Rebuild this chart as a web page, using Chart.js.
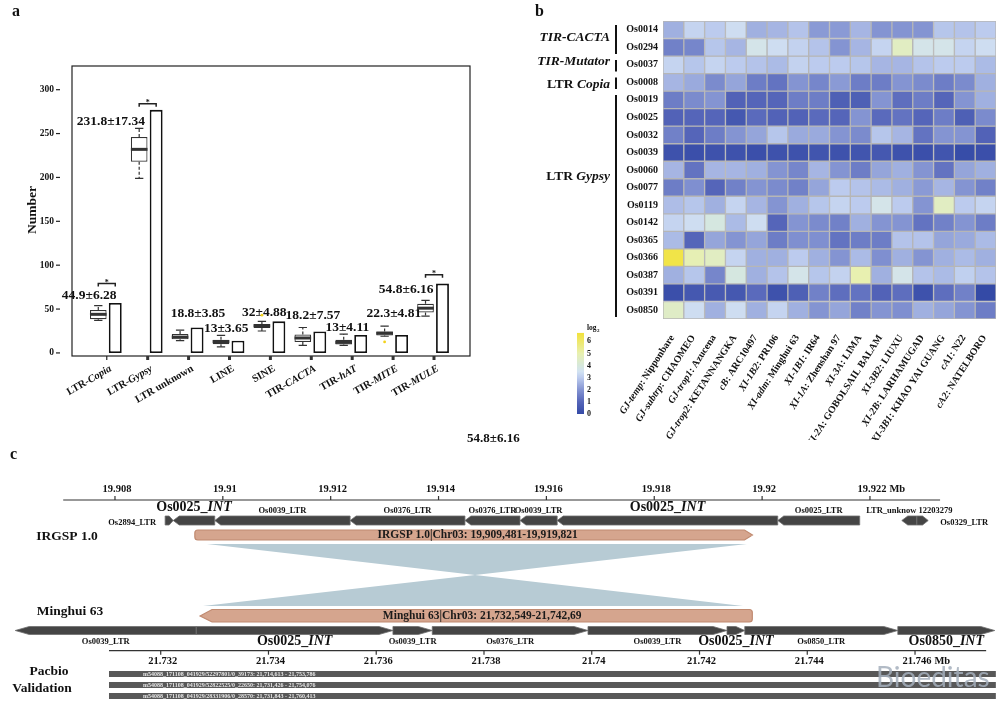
<!DOCTYPE html>
<html>
<head>
<meta charset="utf-8">
<script src="https://cdn.jsdelivr.net/npm/chart.js@4.4.0/dist/chart.umd.min.js"></script>
<style>
  body { margin: 0; background: #fff; }
  #wrap { position: relative; width: 1005px; height: 709px; overflow: hidden; }
  canvas { position: absolute; }
  .note { position: absolute; font: bold 13px "Liberation Serif", serif; line-height: 15px; color: #111; }
</style>
</head>
<body>
<div id="wrap">
  <canvas id="boxes" width="500" height="440" style="left:0;top:0"></canvas>
  <canvas id="heat" width="505" height="440" style="left:500px;top:0"></canvas>
  <canvas id="synteny" width="1005" height="269" style="left:0;top:440px"></canvas>
  <div class="note" style="left:467px;top:430px">54.8±6.16</div>
</div>
<script>
// ---------- panel a: TE counts ----------
const cats = ["LTR-*Copia*", "LTR-*Gypsy*", "LTR unknown", "LINE", "SINE", "TIR-*CACTA*", "TIR-*hAT*", "TIR-*MITE*", "TIR-*MULE*"];
const boxMin = [37, 199, 14, 7, 25, 8.5, 8.5, 19, 42];
const boxQ1 = [38.5, 218, 15.5, 10, 28.5, 12.5, 9.5, 20, 46];
const boxMed = [44, 232, 18, 13, 31, 17, 12, 22.5, 51];
const boxQ3 = [49, 246, 21.5, 15, 33, 21, 15, 24.5, 56];
const boxMax = [54, 256, 26, 20, 36, 29, 21.5, 30.5, 60];
const refCounts = [57, 277, 29, 14, 36, 24.5, 20.5, 20.5, 79];
const meanSd = ["44.9±6.28", "231.8±17.34", "18.8±3.85", "13±3.65", "32±4.88", "18.2±7.57", "13±4.11", "22.3±4.81", "54.8±6.16"];
const outlierCat = [4, 7];
const outlierVal = [43, 12.5];
const sigCat = [0, 1, 8];
const sigVal = [79, 284, 89];
const yTicks = [0, 50, 100, 150, 200, 250, 300];
// where each mean±sd label sits (category offset, value)
const labelDx = [-0.43, -0.9, 0.23, -0.08, -0.15, 0.04, -0.12, 0.02, -0.68];
const labelY = [66, 264, 44.6, 27.5, 45.6, 42.6, 29, 44.6, 72];

// ---------- panel b: heatmap ----------
const rowNames = ["Os0014", "Os0294", "Os0037", "Os0008", "Os0019", "Os0025", "Os0032", "Os0039", "Os0060", "Os0077", "Os0119", "Os0142", "Os0365", "Os0366", "Os0387", "Os0391", "Os0850"];
const colNames = ["*GJ-temp*: Nipponbare", "*GJ-subtrp*: CHAOMEO", "*GJ-trop1*: Azucena", "*GJ-trop2*: KETANNANGKA", "*cB*: ARC10497", "*XI-1B2*: PR106", "*XI-adm*: Minghui 63", "*XI-1B1*: IR64", "*XI-1A*: Zhenshan 97", "*XI-3A*: LIMA", "*XI-2A*: GOBOLSAIL BALAM", "*XI-3B2*: LIUXU", "*XI-2B*: LARHAMUGAD", "*XI-3B1*: KHAO YAI GUANG", "*cA1*: N22", "*cA2*: NATELBORO"];
const heat = [
  [2.5, 3.2, 3.0, 3.4, 2.5, 2.6, 2.85, 2.1, 2.1, 2.6, 2.0, 2.0, 2.0, 2.9, 2.85, 3.0],
  [1.6, 1.7, 2.9, 2.6, 3.7, 3.4, 3.15, 2.85, 2.0, 2.6, 3.2, 4.6, 3.7, 3.7, 3.2, 3.4],
  [3.2, 2.9, 3.2, 3.0, 2.85, 2.7, 3.15, 3.0, 3.0, 2.9, 2.6, 2.6, 2.85, 3.0, 3.0, 2.7],
  [2.6, 2.4, 1.8, 2.3, 1.5, 1.3, 2.0, 1.7, 2.1, 1.5, 1.5, 2.0, 1.8, 1.5, 1.8, 2.5],
  [1.5, 1.8, 2.0, 0.9, 1.0, 1.0, 1.5, 1.5, 0.8, 0.8, 2.0, 1.2, 1.5, 1.0, 2.0, 2.5],
  [0.9, 1.0, 1.0, 0.5, 1.1, 0.9, 0.9, 1.1, 1.0, 2.0, 1.1, 1.3, 1.0, 1.5, 0.8, 1.8],
  [1.6, 1.0, 1.5, 2.0, 2.3, 2.9, 2.4, 2.4, 2.0, 1.8, 2.9, 2.6, 1.3, 2.0, 2.0, 0.9],
  [0.3, 0.2, 0.3, 0.3, 0.2, 0.3, 0.3, 0.4, 0.3, 0.4, 0.5, 0.3, 0.2, 0.4, 0.1, 0.2],
  [2.6, 1.3, 2.6, 2.6, 2.5, 2.0, 1.7, 2.6, 2.0, 1.5, 2.3, 2.5, 2.0, 1.3, 2.3, 2.5],
  [1.5, 1.9, 1.0, 1.6, 2.0, 1.8, 1.6, 2.3, 3.0, 2.85, 2.7, 2.5, 2.1, 2.6, 2.0, 1.6],
  [2.75, 2.9, 2.5, 3.2, 2.6, 2.0, 2.5, 2.9, 3.2, 3.0, 3.7, 3.0, 2.0, 4.6, 3.0, 3.2],
  [3.2, 3.4, 3.9, 2.7, 3.4, 1.0, 2.0, 1.8, 1.6, 2.5, 2.0, 2.0, 1.3, 1.6, 2.0, 1.5],
  [2.7, 1.0, 2.3, 2.0, 2.3, 1.5, 1.9, 1.9, 1.3, 1.5, 1.5, 2.85, 2.85, 2.3, 2.4, 2.7],
  [6.5, 4.9, 4.6, 3.2, 2.5, 2.5, 3.0, 2.5, 2.0, 2.7, 1.9, 2.5, 2.0, 2.5, 2.7, 2.5],
  [2.5, 2.9, 1.7, 3.9, 2.5, 2.85, 3.7, 2.9, 3.15, 5.0, 2.5, 3.7, 2.85, 2.7, 3.1, 2.85],
  [0.2, 0.5, 0.6, 0.5, 1.1, 0.3, 0.8, 1.6, 1.2, 1.3, 0.9, 1.2, 0.3, 1.2, 1.6, 0.0],
  [4.5, 3.4, 2.5, 3.4, 2.5, 3.2, 2.5, 2.0, 2.3, 1.6, 2.0, 1.9, 2.5, 2.3, 2.0, 1.5]
];
const groupNames = ["*TIR-CACTA*", "*TIR-Mutator*", "LTR *Copia*", "LTR *Gypsy*"];
const groupFirst = [0, 2, 3, 4];
const groupLast = [1, 2, 3, 16];
const groupLabelRow = [0.95, 2.3, 3.65, 8.9];
const legendTicks = [0, 1, 2, 3, 4, 5, 6];
const colorStops = [[0, "#344aa6"], [1, "#5565b9"], [2, "#8494d2"], [3, "#bccbee"], [3.5, "#d2e2f2"], [4, "#d6e8dc"], [5, "#e8f0b0"], [6.7, "#f2e23a"]];

// ---------- panel c: synteny ----------
const topTicks = [19.908, 19.91, 19.912, 19.914, 19.916, 19.918, 19.92, 19.922];
const topAxis = [19.90704, 19.9233];
const irNames = ["Os2894_LTR", "Os0025_*INT*", "Os0039_LTR", "Os0376_LTR", "Os0376_LTR", "Os0039_LTR", "Os0025_*INT*", "Os0025_LTR", "LTR_unknow 12203279", "Os0329_LTR"];
const irStart = [19.90893, 19.90908, 19.90985, 19.91236, 19.91449, 19.91551, 19.91620, 19.92029, 19.92259, 19.92287];
const irEnd = [19.90908, 19.90985, 19.91236, 19.91449, 19.91551, 19.91620, 19.92029, 19.92181, 19.92287, 19.92308];
const irDir = [1, -1, -1, -1, -1, -1, -1, -1, -1, 1];
const irLabelSide = ["left", "above", "above", "above", "above", "above", "above", "above", "above", "right"];
const mhTicks = [21.732, 21.734, 21.736, 21.738, 21.74, 21.742, 21.744, 21.746];
const mhAxis = [21.73104, 21.74732];
const mhNames = ["Os0039_LTR", "Os0025_*INT*", "Os0039_LTR", "Os0376_LTR", "Os0039_LTR", "Os0025_*INT*", "Os0850_LTR", "Os0850_*INT*"];
const mhStart = [21.72930, 21.73266, 21.73631, 21.73704, 21.73993, 21.74251, 21.74284, 21.74568];
const mhEnd = [21.73266, 21.73631, 21.73704, 21.73993, 21.74251, 21.74284, 21.74568, 21.74748];
const mhDir = [-1, 1, 1, 1, 1, 1, 1, 1];
const irRegion = [19.909481, 19.919821];
const mhRegion = [21.73273, 21.74298];
const irLink = [19.909706, 19.919719];
const mhLink = [21.732785, 21.742808];
const regionText = ["IRGSP 1.0|Chr03: 19,909,481-19,919,821", "Minghui 63|Chr03: 21,732,549-21,742,69"];
const readIds = ["m54088_171108_041929/52297801/0_39173", "m54088_171108_041929/52822525/0_22650", "m54088_171108_041929/28331906/0_28570"];
const readStart = [21714613, 21731426, 21731843];
const readEnd = [21753786, 21754076, 21760413];
const viewEnd = 21.7475;

const SERIF = '"Liberation Serif", "Times New Roman", serif';
const font = (size, italic) => `${italic ? "italic " : ""}bold ${size}px ${SERIF}`;

// draws text where *...* parts are italic
function rich(ctx, str, x, y, size, align) {
  const parts = str.split("*");
  const w = parts.map((p, k) => { ctx.font = font(size, k % 2); return ctx.measureText(p).width; });
  const total = w.reduce((a, b) => a + b, 0);
  let cx = align === "right" ? x - total : align === "center" ? x - total / 2 : x;
  ctx.textAlign = "left";
  parts.forEach((p, k) => { ctx.font = font(size, k % 2); ctx.fillText(p, cx, y); cx += w[k]; });
  return total;
}

function heatColor(v) {
  let i = 0;
  while (i < colorStops.length - 2 && v > colorStops[i + 1][0]) i++;
  const [v0, c0] = colorStops[i], [v1, c1] = colorStops[i + 1];
  const t = Math.max(0, Math.min(1, (v - v0) / (v1 - v0)));
  const a = [1, 3, 5].map(k => parseInt(c0.substr(k, 2), 16));
  const b = [1, 3, 5].map(k => parseInt(c1.substr(k, 2), 16));
  return `rgb(${a.map((x, k) => Math.round(x + (b[k] - x) * t)).join(",")})`;
}

const quiet = { legend: { display: false }, tooltip: { enabled: false } };

// box plot whiskers, medians, frame, axes and labels
const boxDeco = {
  id: "boxDeco",
  afterDatasetsDraw(chart) {
    const { ctx, chartArea: ca, scales: { x, y } } = chart;
    const boxMeta = chart.getDatasetMeta(0), barMeta = chart.getDatasetMeta(1);
    ctx.save();
    ctx.fillStyle = "#111";
    ctx.strokeStyle = "#222";
    ctx.lineWidth = 1.2;
    ctx.strokeRect(ca.left, ca.top, ca.right - ca.left, ca.bottom - ca.top);

    ctx.textBaseline = "middle";
    ctx.font = font(16);
    ctx.textAlign = "left";
    ctx.fillText("a", 12, 12);

    yTicks.forEach(v => {
      const py = y.getPixelForValue(v);
      ctx.beginPath(); ctx.moveTo(56, py); ctx.lineTo(60, py); ctx.stroke();
      ctx.font = font(9.5); ctx.textAlign = "right";
      ctx.fillText(String(v), 54, py);
    });
    ctx.save();
    ctx.translate(33, 210); ctx.rotate(-Math.PI / 2);
    ctx.font = font(13.5); ctx.textAlign = "center";
    ctx.fillText("Number", 0, 0);
    ctx.restore();

    cats.forEach((c, i) => {
      const px = x.getPixelForValue(i);
      ctx.beginPath(); ctx.moveTo(px, ca.bottom); ctx.lineTo(px, ca.bottom + 4); ctx.stroke();
      ctx.save();
      ctx.translate(px + 4, ca.bottom + 12); ctx.rotate(-Math.PI / 6);
      rich(ctx, c, 0, 0, 10.5, "right");
      ctx.restore();

      const el = boxMeta.data[i], cx = el.x, hw = el.width / 2;
      ctx.strokeStyle = "#333"; ctx.lineWidth = 1.2;
      ctx.setLineDash([3, 2]);
      ctx.beginPath();
      ctx.moveTo(cx, y.getPixelForValue(boxQ3[i])); ctx.lineTo(cx, y.getPixelForValue(boxMax[i]));
      ctx.moveTo(cx, y.getPixelForValue(boxQ1[i])); ctx.lineTo(cx, y.getPixelForValue(boxMin[i]));
      ctx.stroke();
      ctx.setLineDash([]);
      ctx.beginPath();
      [boxMax[i], boxMin[i]].forEach(v => {
        const py = y.getPixelForValue(v);
        ctx.moveTo(cx - hw * 0.5, py); ctx.lineTo(cx + hw * 0.5, py);
      });
      ctx.stroke();
      ctx.lineWidth = 3;
      ctx.beginPath();
      ctx.moveTo(cx - hw, y.getPixelForValue(boxMed[i])); ctx.lineTo(cx + hw, y.getPixelForValue(boxMed[i]));
      ctx.stroke();

      ctx.fillStyle = "#111";
      rich(ctx, meanSd[i], x.getPixelForValue(i + labelDx[i]), y.getPixelForValue(labelY[i]), 13.5, "center");
    });

    outlierCat.forEach((c, k) => {
      ctx.fillStyle = "#f3d21a";
      ctx.beginPath();
      ctx.arc(boxMeta.data[c].x, y.getPixelForValue(outlierVal[k]), 1.4, 0, Math.PI * 2);
      ctx.fill();
    });

    ctx.strokeStyle = "#222"; ctx.lineWidth = 1.5; ctx.fillStyle = "#111";
    sigCat.forEach((c, k) => {
      const x0 = boxMeta.data[c].x, x1 = barMeta.data[c].x, py = y.getPixelForValue(sigVal[k]);
      ctx.beginPath();
      ctx.moveTo(x0, py + 3); ctx.lineTo(x0, py); ctx.lineTo(x1, py); ctx.lineTo(x1, py + 3);
      ctx.stroke();
      ctx.font = font(8); ctx.textAlign = "center";
      ctx.fillText("*", (x0 + x1) / 2, py - 1);
    });
    ctx.restore();
  }
};

new Chart(document.getElementById("boxes"), {
  type: "bar",
  data: {
    datasets: [
      {
        data: cats.map((c, i) => ({ x: i, y: [boxQ1[i], boxQ3[i]] })),
        backgroundColor: "#fff",
        borderColor: "#333",
        borderWidth: 1.2,
        borderSkipped: false,
        barPercentage: 0.98,
        categoryPercentage: 0.83,
      },
      {
        data: cats.map((c, i) => ({ x: i, y: refCounts[i] })),
        backgroundColor: "#fff",
        borderColor: "#111",
        borderWidth: 1.8,
        borderSkipped: false,
        barPercentage: 0.76,
        categoryPercentage: 0.83,
      },
    ],
  },
  options: {
    responsive: false,
    animation: false,
    events: [],
    layout: { padding: { left: 72, top: 66, right: 30, bottom: 84 } },
    plugins: quiet,
    scales: {
      x: { type: "linear", min: -0.85, max: 8.88, offset: false, display: false },
      y: { min: -3.5, max: 327, display: false },
    },
  },
  plugins: [boxDeco],
});

// heatmap labels, groups and colour key
const heatDeco = {
  id: "heatDeco",
  afterDraw(chart) {
    const { ctx, scales: { x, y } } = chart;
    ctx.save();
    ctx.fillStyle = "#111";
    ctx.textBaseline = "middle";
    ctx.font = font(16); ctx.textAlign = "left";
    ctx.fillText("b", 35, 12);

    rowNames.forEach((r, i) => {
      ctx.font = font(10); ctx.textAlign = "right";
      ctx.fillText(r, 158, y.getPixelForValue(i + 0.5));
    });

    ctx.strokeStyle = "#111"; ctx.lineWidth = 2;
    groupNames.forEach((g, k) => {
      const top = y.getPixelForValue(groupFirst[k]) + 4, bot = y.getPixelForValue(groupLast[k] + 1) - 2;
      ctx.beginPath(); ctx.moveTo(116, top); ctx.lineTo(116, bot); ctx.stroke();
      rich(ctx, g, 110, y.getPixelForValue(groupLabelRow[k]), 13.5, "right");
    });

    colNames.forEach((c, i) => {
      ctx.save();
      ctx.translate(x.getPixelForValue(i) - 1, 336);
      ctx.rotate(-57 * Math.PI / 180);
      rich(ctx, c, 0, 0, 10, "right");
      ctx.restore();
    });

    // colour key
    const kx = 77, kw = 7, k0 = 414, per = 12.1, kmax = 6.7;
    const grad = ctx.createLinearGradient(0, k0, 0, k0 - kmax * per);
    colorStops.forEach(([v, c]) => grad.addColorStop(v / kmax, c));
    ctx.fillStyle = grad;
    ctx.fillRect(kx, k0 - kmax * per, kw, kmax * per);
    ctx.fillStyle = "#111";
    ctx.textAlign = "left";
    legendTicks.forEach(v => { ctx.font = font(8); ctx.fillText(String(v), kx + 10, k0 - v * per); });
    ctx.font = font(7.5);
    ctx.fillText("log", kx + 10, k0 - kmax * per - 5);
    ctx.font = font(5);
    ctx.fillText("2", kx + 20, k0 - kmax * per - 2);
    ctx.restore();
  }
};

new Chart(document.getElementById("heat"), {
  type: "bar",
  data: {
    labels: colNames,
    datasets: rowNames.map((r, i) => ({
      label: r,
      data: colNames.map(() => 1),
      backgroundColor: heat[i].map(heatColor),
      borderColor: "#b6b6b6",
      borderWidth: 1,
      borderSkipped: false,
      barPercentage: 1,
      categoryPercentage: 1,
    })),
  },
  options: {
    responsive: false,
    animation: false,
    events: [],
    layout: { padding: { left: 163, top: 21, right: 9, bottom: 121 } },
    plugins: quiet,
    scales: {
      x: { stacked: true, display: false },
      y: { stacked: true, display: false, min: 0, max: rowNames.length, reverse: true },
    },
  },
  plugins: [heatDeco],
});

// genome tracks
function arrowShape(ctx, a, b, yc, h, dir, tipLen) {
  const t = Math.min(tipLen, (b - a) * 0.5);
  ctx.beginPath();
  if (dir < 0) {
    ctx.moveTo(a, yc); ctx.lineTo(a + t, yc - h / 2); ctx.lineTo(b, yc - h / 2);
    ctx.lineTo(b, yc + h / 2); ctx.lineTo(a + t, yc + h / 2);
  } else {
    ctx.moveTo(a, yc - h / 2); ctx.lineTo(b - t, yc - h / 2); ctx.lineTo(b, yc);
    ctx.lineTo(b - t, yc + h / 2); ctx.lineTo(a, yc + h / 2);
  }
  ctx.closePath(); ctx.fill(); ctx.stroke();
}

function coordAxis(ctx, map, range, ticks, yLine, dir) {
  ctx.strokeStyle = "#333"; ctx.lineWidth = 1.2;
  ctx.beginPath(); ctx.moveTo(map(range[0]), yLine); ctx.lineTo(map(range[1]), yLine); ctx.stroke();
  ctx.fillStyle = "#111"; ctx.textBaseline = "middle";
  ticks.forEach((t, k) => {
    const px = map(t);
    ctx.beginPath(); ctx.moveTo(px, yLine); ctx.lineTo(px, yLine + dir * 4); ctx.stroke();
    ctx.font = font(10.5); ctx.textAlign = "center";
    const label = String(t);
    ctx.fillText(label, px + 2, yLine + dir * 11);
    if (k === ticks.length - 1) {
      const w = ctx.measureText(label).width;
      ctx.textAlign = "left";
      ctx.fillText("Mb", px + 2 + w / 2 + 3, yLine + dir * 11);
    }
  });
}

const trackDeco = {
  id: "trackDeco",
  afterDraw(chart) {
    const { ctx, scales: { x, x2 } } = chart;
    const px = v => x.getPixelForValue(v), qx = v => x2.getPixelForValue(v);
    ctx.save();
    ctx.fillStyle = "#111"; ctx.textBaseline = "middle";
    ctx.font = font(16); ctx.textAlign = "left";
    ctx.fillText("c", 10, 15);

    ctx.font = font(13.5); ctx.textAlign = "center";
    ctx.fillText("IRGSP 1.0", 67, 97);
    ctx.fillText("Minghui 63", 70, 172);
    ctx.fillText("Pacbio", 49, 232);
    ctx.fillText("Validation", 42, 249);

    coordAxis(ctx, px, topAxis, topTicks, 60, -1);
    coordAxis(ctx, qx, mhAxis, mhTicks, 210.7, 1);

    // synteny link (inverted)
    ctx.fillStyle = "#b7cbd4";
    ctx.beginPath();
    ctx.moveTo(px(irLink[0]), 104); ctx.lineTo(px(irLink[1]), 104);
    ctx.lineTo(qx(mhLink[0]), 166); ctx.lineTo(qx(mhLink[1]), 166);
    ctx.closePath(); ctx.fill();

    // region bars
    ctx.fillStyle = "#d5a58e"; ctx.strokeStyle = "#c08a70"; ctx.lineWidth = 1.2;
    let a = px(irRegion[0]), b = px(irRegion[1]);
    ctx.beginPath();
    ctx.moveTo(a + 3, 90); ctx.lineTo(b - 8, 90); ctx.lineTo(b, 95); ctx.lineTo(b - 8, 100); ctx.lineTo(a + 3, 100);
    ctx.arcTo(a, 100, a, 97, 3); ctx.arcTo(a, 90, a + 3, 90, 3);
    ctx.closePath(); ctx.fill(); ctx.stroke();
    ctx.fillStyle = "#1a1a1a"; ctx.font = font(11.5); ctx.textAlign = "center";
    ctx.fillText(regionText[0], (a + b) / 2 + 4, 95.5);

    ctx.fillStyle = "#d5a58e";
    a = qx(mhRegion[0]); b = qx(mhRegion[1]);
    ctx.beginPath();
    ctx.moveTo(a, 176); ctx.lineTo(a + 12, 169.5); ctx.lineTo(b - 3, 169.5);
    ctx.arcTo(b, 169.5, b, 173, 3); ctx.arcTo(b, 182, b - 3, 182, 3);
    ctx.lineTo(a + 12, 182);
    ctx.closePath(); ctx.fill(); ctx.stroke();
    ctx.fillStyle = "#1a1a1a"; ctx.font = font(11.5);
    ctx.fillText(regionText[1], (a + b) / 2 + 6, 176);

    // feature tracks
    ctx.fillStyle = "#454545"; ctx.strokeStyle = "#6e6e6e"; ctx.lineWidth = 0.8;
    irNames.forEach((n, i) => arrowShape(ctx, px(irStart[i]), px(irEnd[i]), 80.5, 9, irDir[i], 6));
    mhNames.forEach((n, i) => arrowShape(ctx, qx(mhStart[i]), qx(mhEnd[i]), 190.5, 8, mhDir[i], 14));

    ctx.fillStyle = "#111";
    irNames.forEach((n, i) => {
      const a0 = px(irStart[i]), b0 = px(irEnd[i]);
      const big = n.includes("INT");
      if (irLabelSide[i] === "left") rich(ctx, n, a0 - 9, 82.5, 8.5, "right");
      else if (irLabelSide[i] === "right") rich(ctx, n, b0 + 12, 82.5, 8.5, "left");
      else rich(ctx, n, (a0 + b0) / 2, big ? 67.5 : 71, big ? 14 : 8.5, "center");
    });
    mhNames.forEach((n, i) => {
      const big = n.includes("INT");
      rich(ctx, n, (qx(mhStart[i]) + qx(mhEnd[i])) / 2, 201.5, big ? 14 : 8.5, "center");
    });

    // pacbio reads: every read spans the whole visible window
    readIds.forEach((id, k) => {
      const s = Math.max(Math.min(readStart[k] / 1e6, mhAxis[0]), mhAxis[0]);
      const e = Math.min(readEnd[k] / 1e6, viewEnd);
      const top = 231 + k * 11;
      ctx.fillStyle = "#585858";
      ctx.fillRect(qx(s), top, qx(e) - qx(s), 6);
      ctx.fillStyle = "#e6e6e6"; ctx.font = font(6); ctx.textAlign = "left";
      ctx.fillText(`${id}: ${readStart[k].toLocaleString("en-US")} - ${readEnd[k].toLocaleString("en-US")}`, 143, top + 3.2);
    });

    ctx.fillStyle = "rgba(165,175,188,0.85)";
    ctx.font = '400 28px Lato, "Open Sans", sans-serif';
    ctx.textAlign = "left"; ctx.textBaseline = "alphabetic";
    ctx.fillText("Bioeditas", 876, 247);
    ctx.restore();
  }
};

new Chart(document.getElementById("synteny"), {
  type: "scatter",
  data: { datasets: [] },
  options: {
    responsive: false,
    animation: false,
    events: [],
    layout: { padding: 0 },
    plugins: quiet,
    scales: {
      x: { type: "linear", min: 19.905868, max: 19.924504, display: false },
      x2: { type: "linear", axis: "x", min: 21.729017, max: 21.74767, display: false },
      y: { min: 0, max: 1, display: false },
    },
  },
  plugins: [trackDeco],
});
</script>
</body>
</html>
